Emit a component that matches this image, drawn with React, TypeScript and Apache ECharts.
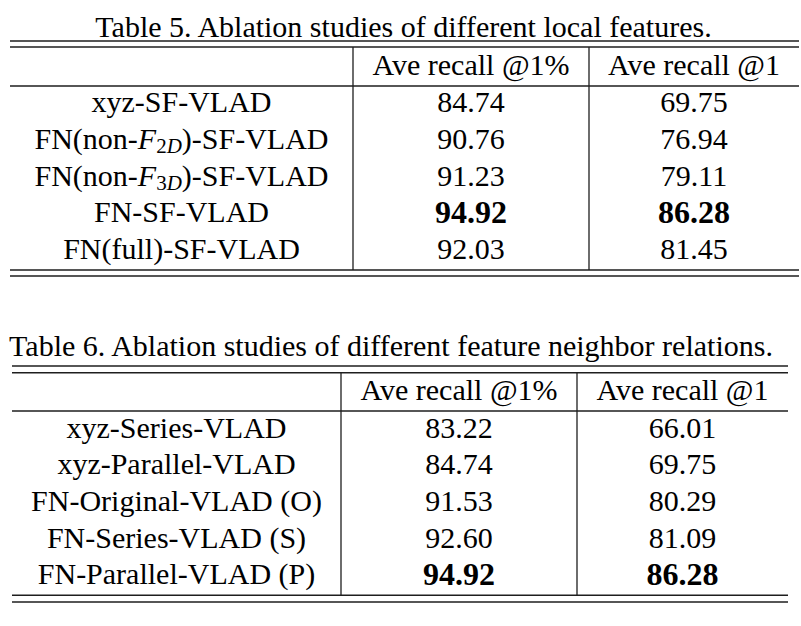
import React, { useEffect, useRef } from "react";
import * as echarts from "echarts";

// ---- data ----
const table5Title = "Table 5. Ablation studies of different local features.";
const table6Title = "Table 6. Ablation studies of different feature neighbor relations.";
const headers = ["Ave recall @1%", "Ave recall @1"];
const table5Methods = [
  "xyz-SF-VLAD",
  "FN(non-{it|F}{sub|2}{subit|D})-SF-VLAD",
  "FN(non-{it|F}{sub|3}{subit|D})-SF-VLAD",
  "FN-SF-VLAD",
  "FN(full)-SF-VLAD",
];
const table5Recall1pct = [84.74, 90.76, 91.23, 94.92, 92.03];
const table5Recall1 = [69.75, 76.94, 79.11, 86.28, 81.45];
const table6Methods = [
  "xyz-Series-VLAD",
  "xyz-Parallel-VLAD",
  "FN-Original-VLAD (O)",
  "FN-Series-VLAD (S)",
  "FN-Parallel-VLAD (P)",
];
const table6Recall1pct = [83.22, 84.74, 91.53, 92.6, 94.92];
const table6Recall1 = [66.01, 69.75, 80.29, 81.09, 86.28];

const FAM = "'Liberation Serif', 'Times New Roman', Times, serif";
const FS = 30;
const BASE_OFF = 10; // baseline minus central offset
const INK = "#000";
const RULE = "#1e1e1e";

const font = (size: number, weight = "normal", style = "normal") => `${style} ${weight} ${size}px ${FAM}`;

type Layout = {
  x0: number; x1: number; v1: number; v2: number;
  titleX: number; titleBase: number;
  top1: number; top2: number; headRule: number; bot1: number; bot2: number;
  headBase: number; rowBase0: number; rowStep: number;
};

const L5: Layout = {
  x0: 10, x1: 799, v1: 353, v2: 589,
  titleX: 403.5, titleBase: 36.7,
  top1: 41, top2: 47, headRule: 86, bot1: 270, bot2: 276,
  headBase: 74.5, rowBase0: 111.7, rowStep: 36.65,
};
const L6: Layout = {
  x0: 12, x1: 788, v1: 341, v2: 577,
  titleX: 391, titleBase: 355,
  top1: 366, top2: 372.7, headRule: 411, bot1: 595.3, bot2: 602,
  headBase: 399, rowBase0: 437.3, rowStep: 36.67,
};

const rich = {
  it: { font: font(FS, "normal", "italic"), fontFamily: FAM, fontSize: FS, fontStyle: "italic", lineHeight: 36, fill: INK },
  sub: { font: font(21), fontFamily: FAM, fontSize: 21, lineHeight: 25, verticalAlign: "bottom", fill: INK },
  subit: { font: font(21, "normal", "italic"), fontFamily: FAM, fontSize: 21, fontStyle: "italic", lineHeight: 25, verticalAlign: "bottom", fill: INK },
};

function hline(x1: number, x2: number, y: number, w = 1.4) {
  return { type: "line", shape: { x1, y1: y, x2, y2: y }, style: { stroke: RULE, lineWidth: w }, silent: true };
}
function vline(x: number, y1: number, y2: number) {
  return { type: "line", shape: { x1: x, y1, x2: x, y2 }, style: { stroke: RULE, lineWidth: 1.3 }, silent: true };
}
function txt(text: string, x: number, base: number, opts: any = {}) {
  const size = opts.fontSize || FS;
  const weight = opts.bold ? "bold" : "normal";
  return {
    type: "text",
    x,
    y: base - BASE_OFF,
    silent: true,
    style: {
      text,
      font: font(size, weight),
      fontFamily: FAM,
      fontSize: size,
      fontWeight: weight,
      fill: INK,
      align: "center",
      verticalAlign: "middle",
      lineHeight: 36,
      rich: opts.rich,
    },
  };
}

function buildTable(L: Layout, title: string, methods: string[], c1: number[], c2: number[]) {
  const els: any[] = [];
  els.push(txt(title, L.titleX, L.titleBase));
  els.push(hline(L.x0, L.x1, L.top1), hline(L.x0, L.x1, L.top2));
  els.push(hline(L.x0, L.x1, L.headRule));
  els.push(hline(L.x0, L.x1, L.bot1), hline(L.x0, L.x1, L.bot2));
  els.push(vline(L.v1, L.top2, L.bot1), vline(L.v2, L.top2, L.bot1));
  const cx0 = (L.x0 + L.v1) / 2;
  const cx1 = (L.v1 + L.v2) / 2;
  const cx2 = (L.v2 + L.x1) / 2;
  els.push(txt(headers[0], cx1, L.headBase));
  els.push(txt(headers[1], cx2, L.headBase));
  const best1 = Math.max(...c1);
  const best2 = Math.max(...c2);
  methods.forEach((m, i) => {
    const base = L.rowBase0 + i * L.rowStep;
    els.push(txt(m, cx0, base, { rich }));
    const b1 = c1[i] === best1;
    const b2 = c2[i] === best2;
    els.push(txt(c1[i].toFixed(2), cx1, base, b1 ? { bold: true, fontSize: 32 } : {}));
    els.push(txt(c2[i].toFixed(2), cx2, base, b2 ? { bold: true, fontSize: 32 } : {}));
  });
  return els;
}

export default function App() {
  const ref = useRef<HTMLDivElement>(null);
  useEffect(() => {
    document.body.style.margin = "0";
    const chart = echarts.init(ref.current!, null, { renderer: "svg" });
    chart.setOption({
      animation: false,
      backgroundColor: "#ffffff",
      textStyle: { fontFamily: FAM },
      graphic: {
        elements: [
          ...buildTable(L5, table5Title, table5Methods, table5Recall1pct, table5Recall1),
          ...buildTable(L6, table6Title, table6Methods, table6Recall1pct, table6Recall1),
        ],
      },
    });
    return () => chart.dispose();
  }, []);
  return (
    <div
      ref={ref}
      style={{ position: "absolute", left: 0, top: 0, width: 801, height: 626, background: "#fff" }}
    />
  );
}
